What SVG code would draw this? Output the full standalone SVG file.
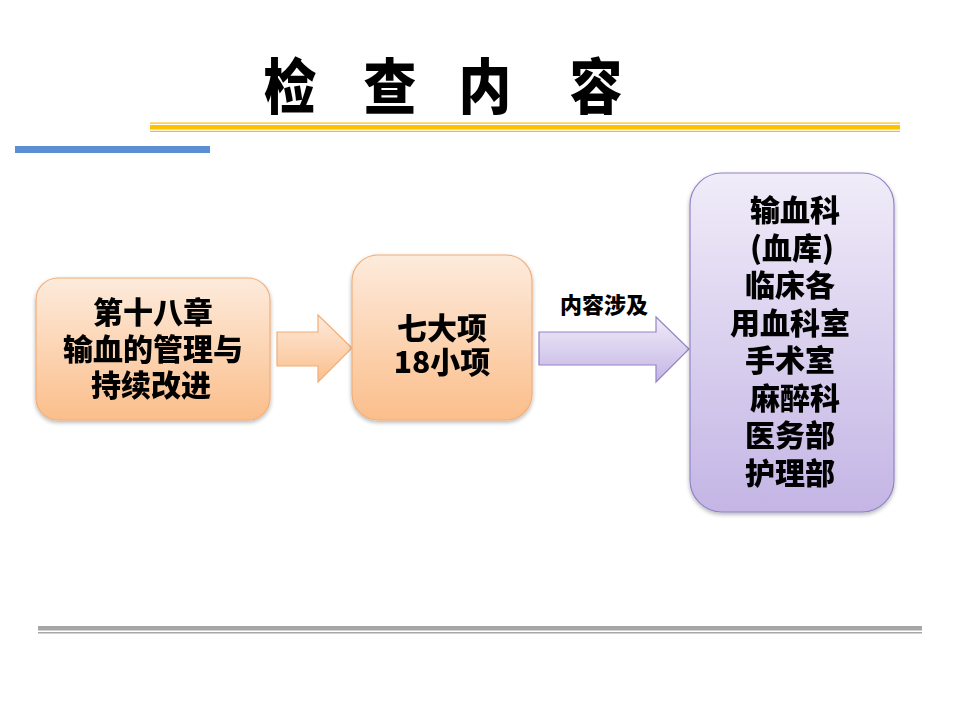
<svg xmlns="http://www.w3.org/2000/svg" width="960" height="720" viewBox="0 0 960 720">
<defs>
<linearGradient id="og" x1="0" y1="0" x2="0" y2="1">
<stop offset="0" stop-color="#FDEBDC"/>
<stop offset="1" stop-color="#FBBE8B"/>
</linearGradient>
<linearGradient id="pg" x1="0" y1="0" x2="0" y2="1">
<stop offset="0" stop-color="#F0ECF8"/>
<stop offset="1" stop-color="#C4B5E5"/>
</linearGradient>
<filter id="sh" x="-10%" y="-10%" width="120%" height="125%">
<feGaussianBlur in="SourceAlpha" stdDeviation="2"/>
<feOffset dx="0" dy="2" result="b"/>
<feComponentTransfer><feFuncA type="linear" slope="0.3"/></feComponentTransfer>
<feMerge><feMergeNode/><feMergeNode in="SourceGraphic"/></feMerge>
</filter>
</defs>
<style>
.t{font-family:"Noto Sans CJK SC","Noto Sans",sans-serif;font-weight:900;fill:#000;text-anchor:middle}
.title{font-family:"Noto Sans CJK SC",sans-serif;font-weight:900;font-size:60px;fill:#000;text-anchor:middle}
.b{font-size:30px}
.o{fill:url(#og);stroke:#F2AE78;stroke-width:1.2}
.p{fill:url(#pg);stroke:#9384C6;stroke-width:1.2}
</style>
<rect width="960" height="720" fill="#fff"/>
<g id="title">
<text class="title" x="290" y="109" transform="translate(290 0) scale(0.88 1) translate(-290 0)">检</text>
<text class="title" x="390" y="109" transform="translate(390 0) scale(0.88 1) translate(-390 0)">查</text>
<text class="title" x="485" y="109" transform="translate(485 0) scale(0.88 1) translate(-485 0)">内</text>
<text class="title" x="596" y="109" transform="translate(596 0) scale(0.88 1) translate(-596 0)">容</text>
</g>
<g id="decor">
<rect x="150" y="122.5" width="750" height="1.2" fill="#FFC000"/>
<rect x="150" y="125" width="750" height="4.5" fill="#FFC000"/>
<rect x="150" y="130.8" width="750" height="1.2" fill="#FFC000"/>
<rect x="15" y="146" width="195" height="7" fill="#5B8FD4"/>
<rect x="38" y="626" width="884" height="4.5" fill="#A6A6A6"/>
<rect x="38" y="632" width="884" height="1.5" fill="#A6A6A6"/>
</g>
<g id="connectors">
<polygon class="o" points="277,332 318,332 318,315 352,348 318,382 318,366 277,366"/>
<polygon class="p" points="539,332 656,332 656,317 689,349 656,382 656,365 539,365"/>
<text class="t" x="604" y="313" style="font-size:22px">内容涉及</text>
</g>
<g id="node1" filter="url(#sh)">
<rect class="o" x="36" y="278" width="234" height="142" rx="22"/>
<text class="t b" x="153" y="323">第十八章</text>
<text class="t b" x="153" y="360">输血的管理与</text>
<text class="t b" x="151" y="396">持续改进</text>
</g>
<g id="node2" filter="url(#sh)">
<rect class="o" x="352" y="255" width="180" height="165" rx="26"/>
<text class="t b" x="442" y="339">七大项</text>
<text class="t b" x="442" y="373">18小项</text>
</g>
<g id="node3" filter="url(#sh)">
<rect class="p" x="690" y="173" width="204" height="339" rx="32"/>
<text class="t b" x="795" y="221">输血科</text>
<text class="t b" x="792" y="259">(血库)</text>
<text class="t b" x="790" y="296">临床各</text>
<text class="t b" x="790" y="334">用血科室</text>
<text class="t b" x="790" y="371">手术室</text>
<text class="t b" x="795" y="409">麻醉科</text>
<text class="t b" x="790" y="446">医务部</text>
<text class="t b" x="790" y="484">护理部</text>
</g>
</svg>
